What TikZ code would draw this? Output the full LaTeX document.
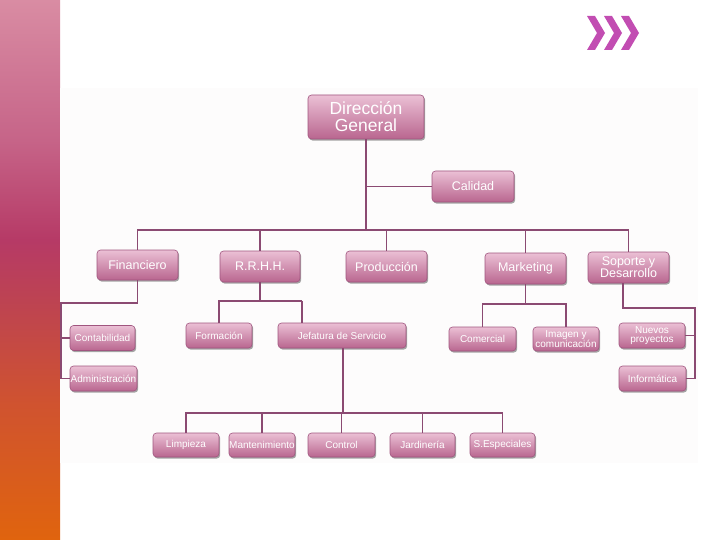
\documentclass[tikz,border=0pt]{standalone}
\usepackage{fontspec}
\setmainfont{Liberation Sans}
\usetikzlibrary{shadows}
\definecolor{bOr}{HTML}{E0640E}
\definecolor{bB}{HTML}{D0532F}
\definecolor{bC}{HTML}{BD4352}
\definecolor{bD}{HTML}{B63A66}
\definecolor{bE}{HTML}{C66488}
\definecolor{bTop}{HTML}{D98CA3}
\definecolor{boxtop}{HTML}{EBC0D5}
\definecolor{boxbot}{HTML}{B9668F}
\definecolor{boxline}{HTML}{A0557F}
\definecolor{linec}{HTML}{8B4A72}
\definecolor{chev}{HTML}{C24DB2}
\definecolor{panel}{HTML}{FDFCFC}
\pgfdeclareverticalshading{barshade}{100bp}{color(0bp)=(bOr); color(25bp)=(bOr); color(37.5bp)=(bB); color(47.2bp)=(bC); color(52.8bp)=(bD); color(62bp)=(bE); color(75bp)=(bTop); color(100bp)=(bTop)}
\tikzset{
  box/.style={rounded corners=3.5pt, draw=boxline, line width=0.6pt,
    top color=boxtop, bottom color=boxbot, text=white, align=center,
    inner sep=0pt,
    drop shadow={shadow xshift=1.2pt, shadow yshift=-1.6pt, opacity=0.35, fill=black}},
  big/.style={font=\fontsize{17.5}{17}\selectfont},
  mid/.style={font=\fontsize{12.5}{12}\selectfont},
  small/.style={font=\fontsize{10}{9.5}\selectfont},
  conn/.style={draw=linec, line width=1.3pt},
  chevron/.style={fill=chev, draw=none}
}
\begin{document}
\begin{tikzpicture}[x=1pt,y=-1pt]
\useasboundingbox (0,0) rectangle (720,540);
% left bar
\shade[shading=barshade] (0,0) rectangle (60,540);
% pasted panel
\fill[panel] (60,88) rectangle (698,463);
% chevrons
\foreach \x in {587,604,621}{
  \fill[chevron] (\x,16) -- (\x+8,16) -- (\x+18,33) -- (\x+8,50) -- (\x,50) -- (\x+10,33) -- cycle;
}
% nodes
\node[box,big,minimum width=116pt,minimum height=44pt] (dg) at (366,117) {Dirección\\General};
\node[box,mid,minimum width=82pt,minimum height=31pt] (cal) at (473,186.5) {Calidad};
\node[box,mid,minimum width=81pt,minimum height=30pt] (fin) at (137.5,265) {Financiero};
\node[box,mid,minimum width=80pt,minimum height=31pt] (rrhh) at (260,266.5) {R.R.H.H.};
\node[box,mid,minimum width=81pt,minimum height=31pt] (prod) at (386.5,266.5) {Producción};
\node[box,mid,minimum width=81pt,minimum height=31pt] (mkt) at (525.5,268.5) {Marketing};
\node[box,mid,minimum width=81pt,minimum height=31pt] (sop) at (628.5,267.5) {Soporte y\\Desarrollo};
\node[box,small,minimum width=65pt,minimum height=25pt] (cont) at (102.5,338) {Contabilidad};
\node[box,small,minimum width=67pt,minimum height=25pt] (adm) at (103.5,378.5) {Administración};
\node[box,small,minimum width=66pt,minimum height=25pt] (form) at (219,335.5) {Formación};
\node[box,small,minimum width=128pt,minimum height=25pt] (jef) at (342,335.5) {Jefatura de Servicio};
\node[box,small,minimum width=67pt,minimum height=24pt] (com) at (482.5,339) {Comercial};
\node[box,small,minimum width=66pt,minimum height=24pt] (img) at (566,339) {Imagen y\\comunicación};
\node[box,small,minimum width=66pt,minimum height=25pt] (nue) at (652,335.5) {Nuevos\\proyectos};
\node[box,small,minimum width=67pt,minimum height=25pt] (inf) at (652.5,378.5) {Informática};
\node[box,small,minimum width=66pt,minimum height=24pt] (lim) at (186,445) {Limpieza};
\node[box,small,minimum width=66pt,minimum height=24pt] (man) at (262,445) {Mantenimiento};
\node[box,small,minimum width=67pt,minimum height=24pt] (con) at (341.5,445) {Control};
\node[box,small,minimum width=65pt,minimum height=24pt] (jar) at (422.5,445) {Jardinería};
\node[box,small,minimum width=65pt,minimum height=24pt] (esp) at (502.5,445) {S.Especiales};
% coordinates
\coordinate (c1) at (366,186.5);
\coordinate (b1) at (366,230);
\coordinate (f1) at (137.5,303);
\coordinate (f2) at (61,303);
\coordinate (f3) at (61,338);
\coordinate (r1) at (260,301);
\coordinate (r2) at (302,301);
\coordinate (j1) at (343,413);
\coordinate (m1) at (525.5,304);
\coordinate (s0) at (623,283);
\coordinate (s1) at (623,308);
\coordinate (s2) at (695,308);
\coordinate (s3) at (695,335.5);
% connectors
\begin{scope}[conn]
\draw (dg.south) -- (b1);
\draw (c1) -- (cal.west);
\draw (b1) -| (fin.north);
\draw (b1) -| (rrhh.north);
\draw (b1) -| (prod.north);
\draw (b1) -| (mkt.north);
\draw (b1) -| (sop.north);
\draw (fin.south) -- (f1) -- (f2) |- (adm.west);
\draw (f3) -- (cont.west);
\draw (rrhh.south) -- (r1);
\draw (r2) -| (form.north);
\draw (r2) -- (r2 |- jef.north);
\draw (j1 |- jef.south) -- (j1);
\draw (j1) -| (lim.north);
\draw (j1) -| (man.north);
\draw (j1) -| (con.north);
\draw (j1) -| (jar.north);
\draw (j1) -| (esp.north);
\draw (mkt.south) -- (m1);
\draw (m1) -| (com.north);
\draw (m1) -| (img.north);
\draw (s0) -- (s1) -- (s2) |- (inf.east);
\draw (s3) -- (nue.east);
\end{scope}
\end{tikzpicture}
\end{document}
